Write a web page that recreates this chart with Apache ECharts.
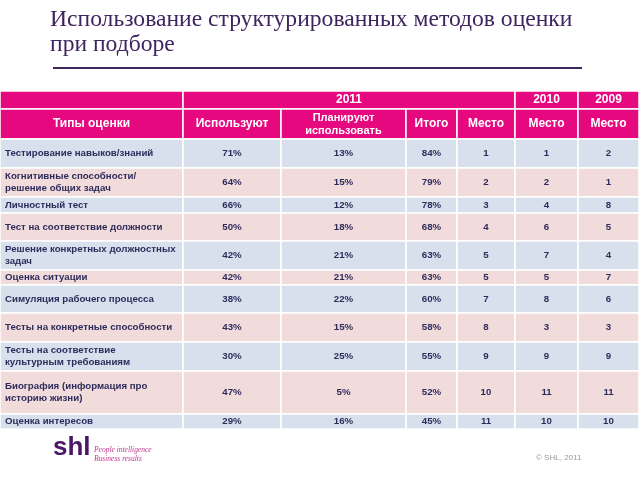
<!DOCTYPE html>
<html><head><meta charset="utf-8">
<script src="https://cdn.jsdelivr.net/npm/echarts@6/dist/echarts.min.js"></script>
<style>html,body{margin:0;padding:0;background:#fff}#c{width:640px;height:480px}</style>
</head><body><div id="c"></div>
<script>
// ---- data ----
const titleText = 'Использование структурированных методов оценки\nпри подборе';
const categories = [
  'Тестирование навыков/знаний',
  'Когнитивные способности/\nрешение общих задач',
  'Личностный тест',
  'Тест на соответствие должности',
  'Решение конкретных должностных\nзадач',
  'Оценка ситуации',
  'Симуляция рабочего процесса',
  'Тесты на конкретные способности',
  'Тесты на соответствие\nкультурным требованиям',
  'Биография (информация про\nисторию жизни)',
  'Оценка интересов'
];
const used2011 = [71, 64, 66, 50, 42, 42, 38, 43, 30, 47, 29];
const planned2011 = [13, 15, 12, 18, 21, 21, 22, 15, 25, 5, 16];
const total2011 = [84, 79, 78, 68, 63, 63, 60, 58, 55, 52, 45];
const rank2011 = [1, 2, 3, 4, 5, 5, 7, 8, 9, 10, 11];
const rank2010 = [1, 2, 4, 6, 7, 5, 8, 3, 9, 11, 10];
const rank2009 = [2, 1, 8, 5, 4, 7, 6, 3, 9, 11, 10];
const yearHeaders = ['2011', '2010', '2009'];
const columnHeaders = ['Типы оценки', 'Используют', 'Планируют\nиспользовать', 'Итого', 'Место', 'Место', 'Место'];
const footerNote = '© SHL, 2011';

// ---- layout (not data) ----
const colEdges = [0, 183, 281, 406, 457, 515, 578, 639];
const headerHeights = [18, 30];
const rowHeights = [29, 29, 16, 28, 29, 15, 28, 29, 29, 43, 15];
const PINK = '#e6087f', BLUE_ROW = '#d7e0ec', PINK_ROW = '#f2dbdb', INK = '#2e2c5c';

const cells = [];
let y = 0;
const h1 = [[0, 1, ''], [1, 5, yearHeaders[0]], [5, 6, yearHeaders[1]], [6, 7, yearHeaders[2]]];
h1.forEach(([a, b, t]) => cells.push({ value: [colEdges[a], y, colEdges[b], y + headerHeights[0]], text: t, fill: PINK, header: true, align: 'center' }));
y += headerHeights[0];
columnHeaders.forEach((t, i) => cells.push({ value: [colEdges[i], y, colEdges[i + 1], y + headerHeights[1]], text: t, fill: PINK, header: true, align: 'center', small: i === 2 }));
y += headerHeights[1];
categories.forEach((cat, r) => {
  const fill = r % 2 === 0 ? BLUE_ROW : PINK_ROW;
  const vals = [cat, used2011[r] + '%', planned2011[r] + '%', total2011[r] + '%', String(rank2011[r]), String(rank2010[r]), String(rank2009[r])];
  vals.forEach((t, i) => cells.push({ value: [colEdges[i], y, colEdges[i + 1], y + rowHeights[r]], text: t, fill, header: false, align: i === 0 ? 'left' : 'center' }));
  y += rowHeights[r];
});
const totalH = y;

const chart = echarts.init(document.getElementById('c'), null, { renderer: 'canvas' });
chart.setOption({
  backgroundColor: '#fff',
  animation: false,
  grid: { left: 0, right: 640 - colEdges[colEdges.length - 1], top: 91, height: totalH, containLabel: false },
  xAxis: { type: 'value', min: 0, max: colEdges[colEdges.length - 1], show: false },
  yAxis: { type: 'value', min: 0, max: totalH, inverse: true, show: false },
  graphic: [
    { type: 'text', left: 50, top: 7, style: { text: titleText, font: '23.6px "Liberation Serif"', fill: '#3f2560', lineHeight: 25 } },
    { type: 'rect', shape: { x: 53, y: 67, width: 529, height: 2 }, style: { fill: '#3f2560' } },
    { type: 'text', left: 53, top: 435, style: { text: 'shl', font: 'bold 26px "Liberation Sans"', fill: '#4a1668' } },
    { type: 'text', left: 94, top: 446, style: { text: 'People intelligence\nBusiness results', font: 'italic 7.5px "Liberation Serif"', fill: '#c2368f', lineHeight: 9 } },
    { type: 'text', left: 536, top: 454, style: { text: footerNote, font: '8px "Liberation Sans"', fill: '#9a9a9a' } }
  ],
  series: [{
    type: 'custom',
    coordinateSystem: 'cartesian2d',
    encode: { x: [0, 2], y: [1, 3] },
    data: cells.map(c => ({ value: c.value })),
    renderItem(params, api) {
      const c = cells[params.dataIndex];
      const p0 = api.coord([api.value(0), api.value(1)]);
      const p1 = api.coord([api.value(2), api.value(3)]);
      const w = p1[0] - p0[0], h = p1[1] - p0[1];
      return {
        type: 'group',
        children: [
          { type: 'rect', shape: { x: p0[0], y: p0[1], width: w, height: h }, style: { fill: c.fill, stroke: '#ffffff', lineWidth: 1.5 } },
          { type: 'text', style: {
              text: c.text,
              x: c.align === 'left' ? p0[0] + 5 : p0[0] + w / 2,
              y: p0[1] + h / 2,
              align: c.align, verticalAlign: 'middle',
              fontFamily: '"Liberation Sans", Arial, sans-serif',
              fontWeight: 'bold',
              fontSize: c.header ? (c.small ? 11 : 12) : 9.7,
              lineHeight: c.header ? 13 : 12,
              fill: c.header ? '#ffffff' : INK
          } }
        ]
      };
    }
  }]
});
</script></body></html>
